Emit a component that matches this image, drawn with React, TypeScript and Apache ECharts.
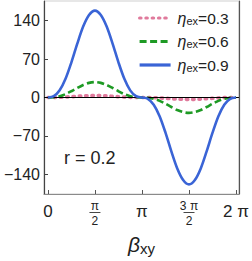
import React, { useEffect, useRef } from "react";
import * as echarts from "echarts";

// sample positions of β_xy (radians)
const betas = [
  0, 0.196, 0.393, 0.589, 0.785, 0.982, 1.178, 1.374, 1.571, 1.767, 1.963, 2.16, 2.356,
  2.553, 2.749, 2.945, 3.142, 3.338, 3.534, 3.731, 3.927, 4.123, 4.32, 4.516, 4.712,
  4.909, 5.105, 5.301, 5.498, 5.694, 5.89, 6.087, 6.283,
];

const eta03 = [
  0, 0.05, 0.3, 0.8, 1.4, 2.2, 2.9, 3.3, 3.5, 3.3, 2.9, 2.2, 1.4, 0.8, 0.3, 0.05, 0,
  -0.05, -0.3, -0.8, -1.4, -2.2, -2.9, -3.3, -3.5, -3.3, -2.9, -2.2, -1.4, -0.8, -0.3, -0.05, 0,
];
const eta06 = [
  0, 0.4, 2.3, 6.1, 11.4, 17.3, 22.8, 26.6, 28, 26.6, 22.8, 17.3, 11.4, 6.1, 2.3, 0.4, 0,
  -0.4, -2.3, -6.1, -11.4, -17.3, -22.8, -26.6, -28, -26.6, -22.8, -17.3, -11.4, -6.1, -2.3, -0.4, 0,
];
const eta09 = [
  0, 2.3, 13, 34, 64, 98, 129, 150, 158, 150, 129, 98, 64, 34, 13, 2.3, 0,
  -2.3, -13, -34, -64, -98, -129, -150, -158, -150, -129, -98, -64, -34, -13, -2.3, 0,
];

const etaLabels = ["0.3", "0.6", "0.9"];
const seriesData = [eta03, eta06, eta09];
const seriesColors = ["#E07A9C", "#1E9A24", "#3A64D6"];

const xTickValues = [0, Math.PI / 2, Math.PI, (3 * Math.PI) / 2, 2 * Math.PI];
const xTickLabels = ["0", "π/2", "π", "3 π/2", "2 π"];
const yTickValues = [-140, -70, 0, 70, 140];

const FONT = "Liberation Sans, Arial, sans-serif";

export default function App() {
  const ref = useRef<HTMLDivElement>(null);
  useEffect(() => {
    if (!ref.current) return;
    const chart = echarts.init(ref.current, undefined, { renderer: "svg" });
    const names = etaLabels.map((v) => `ηex=${v}`);
    const series: any[] = seriesData.map((d, i) => ({
      name: names[i],
      type: "line",
      data: betas.map((b, j) => [b, d[j]]),
      smooth: 0.3,
      symbol: "none",
      z: 3 + i,
      lineStyle: {
        color: seriesColors[i],
        width: i === 0 ? 3.6 : 2.6,
        type: i === 0 ? [1.4, 4.9] : i === 1 ? [7, 3.5] : "solid",
        cap: i === 0 ? "round" : "butt",
      },
      itemStyle: { color: seriesColors[i] },
    }));
    series.push({
      type: "line",
      data: [],
      z: 2,
      markLine: {
        silent: true,
        symbol: "none",
        label: { show: false },
        lineStyle: { color: "#000", width: 1.2, type: "solid" },
        data: [{ yAxis: 0 }],
      },
    });
    chart.setOption({
      animation: false,
      textStyle: { fontFamily: FONT },
      grid: {
        left: 44,
        right: 8,
        top: 1,
        bottom: 63,
        show: true,
        borderColor: "#cfcfcf",
        borderWidth: 1,
      },
      title: {
        text: "r = 0.2",
        left: 64,
        top: 149,
        padding: 0,
        textStyle: { fontSize: 18, fontWeight: "normal", color: "#222", fontFamily: FONT },
      },
      legend: {
        orient: "vertical",
        left: 138,
        top: 9,
        padding: 0,
        itemWidth: 31,
        itemHeight: 16,
        itemGap: 6.5,
        data: names,
        itemStyle: { opacity: 0 },
        lineStyle: { width: 3.2 },
        formatter: (name: string) => {
          const v = name.split("=")[1];
          return `{i|η}{s|ex}{t|=${v}}`;
        },
        textStyle: {
          color: "#222",
          fontFamily: FONT,
          rich: {
            i: { fontSize: 16, fontStyle: "italic", lineHeight: 16, padding: [0, 0, 0, 2] },
            s: { fontSize: 11, lineHeight: 11, verticalAlign: "bottom", padding: [6, 0, 0, 0] },
            t: { fontSize: 15.5, lineHeight: 16 },
          },
        },
      },
      xAxis: {
        type: "value",
        min: -0.13,
        max: 6.38,
        name: "{b|β}{s|xy}",
        nameLocation: "middle",
        nameGap: 39,
        nameTextStyle: {
          color: "#222",
          rich: {
            b: { fontSize: 21, fontStyle: "italic", fontFamily: FONT },
            s: { fontSize: 15, fontFamily: FONT, padding: [8, 0, 0, 0] },
          },
        },
        splitLine: { show: false },
        axisLine: { show: true, onZero: false, lineStyle: { color: "#8a8a8a", width: 1.2 } },
        axisTick: {
          show: true,
          inside: true,
          length: 4,
          customValues: xTickValues,
          lineStyle: { color: "#555" },
        },
        axisLabel: {
          show: true,
          margin: 6,
          customValues: xTickValues,
          color: "#222",
          fontSize: 17,
          formatter: (val: number) => {
            let idx = 0;
            let best = Infinity;
            xTickValues.forEach((t, i) => {
              const d = Math.abs(t - val);
              if (d < best) {
                best = d;
                idx = i;
              }
            });
            const lab = xTickLabels[idx];
            if (lab.includes("/")) {
              const [n, d] = lab.split("/");
              return `{n|${n}}\n{bar| }\n{d|${d}}`;
            }
            return `{p|${lab}}`;
          },
          rich: {
            p: { fontSize: 17, lineHeight: 20, fontFamily: FONT, color: "#222", padding: [2, 0, 0, 0] },
            n: { fontSize: 12, lineHeight: 11, fontFamily: FONT, color: "#222" },
            bar: { width: 11, height: 0.9, lineHeight: 3, backgroundColor: "#333", fontSize: 1 },
            d: { fontSize: 12, lineHeight: 13, fontFamily: FONT, color: "#222" },
          },
        },
      },
      yAxis: [
        {
          type: "value",
          min: -175.5,
          max: 175.5,
          splitLine: { show: false },
          axisLine: { show: true, onZero: false, lineStyle: { color: "#444", width: 1.2 } },
          axisTick: {
            show: true,
            inside: true,
            length: 4,
            customValues: yTickValues,
            lineStyle: { color: "#444" },
          },
          axisLabel: {
            show: true,
            margin: 4,
            customValues: yTickValues,
            color: "#222",
            fontSize: 16,
            fontFamily: FONT,
            formatter: (v: number) => String(v).replace("-", "\u2212"),
          },
        },
        {
          type: "value",
          position: "right",
          min: -175.5,
          max: 175.5,
          splitLine: { show: false },
          axisLine: { show: true, onZero: false, lineStyle: { color: "#555", width: 1.2 } },
          axisTick: { show: false },
          axisLabel: { show: false },
        },
      ],
      series,
    });
    return () => chart.dispose();
  }, []);
  return (
    <div
      ref={ref}
      style={{ position: "fixed", left: 0, top: 0, width: 252, height: 261, background: "#fff" }}
    />
  );
}
